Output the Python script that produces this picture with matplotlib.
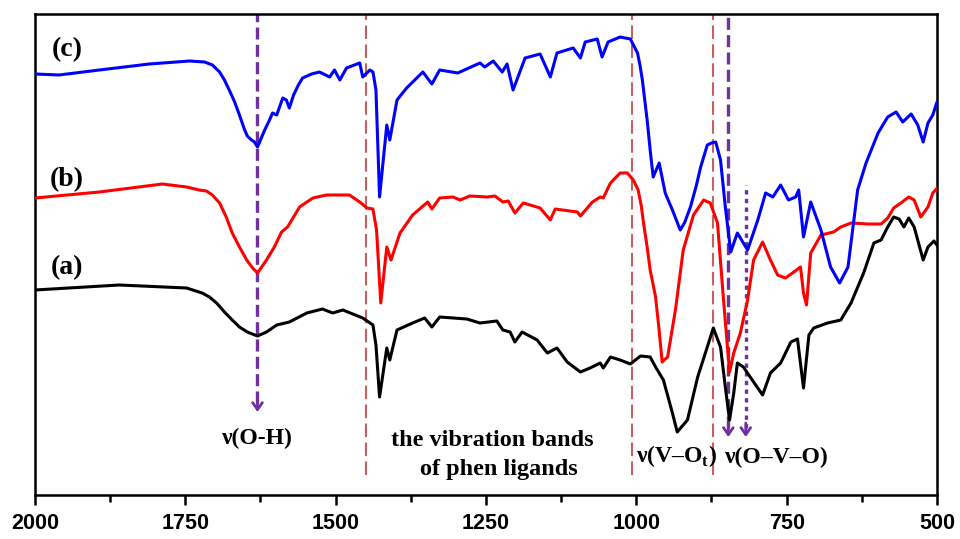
import numpy as np
import matplotlib
matplotlib.use("Agg")
import matplotlib.pyplot as plt

# FT-IR traces, wavenumber (cm-1) vs. offset transmittance (a.u.)
wn_c = [2000, 1960, 1893, 1810, 1743, 1718, 1705, 1693, 1685, 1677, 1668, 1660,
        1652, 1647, 1640, 1635, 1630, 1618, 1610, 1605, 1598, 1588, 1582, 1577,
        1570, 1562, 1555, 1540, 1527, 1510, 1502, 1493, 1482, 1460, 1455, 1443,
        1438, 1433, 1427, 1415, 1410, 1398, 1382, 1355, 1340, 1327, 1307, 1297,
        1260, 1252, 1238, 1223, 1215, 1205, 1185, 1160, 1143, 1132, 1105, 1093,
        1085, 1065, 1057, 1047, 1027, 1010, 998, 994, 990, 986, 982, 977, 972,
        962, 952, 940, 927, 920, 910, 900, 893, 882, 875, 868, 860, 852, 843,
        832, 823, 815, 798, 785, 773, 760, 747, 735, 730, 722, 710, 693, 677,
        662, 648, 632, 618, 598, 582, 568, 557, 543, 532, 523, 515, 507, 500]
t_c = [421, 420, 425, 431, 434, 433, 430, 423, 415, 405, 393, 380,
       366, 359, 355, 353, 348, 365, 375, 382, 380, 397, 395, 387,
       400, 410, 417, 421, 423, 418, 425, 415, 427, 432, 418, 425,
       423, 405, 298, 370, 355, 395, 407, 423, 411, 425, 423, 422,
       432, 428, 434, 423, 431, 405, 437, 441, 418, 442, 447, 437,
       453, 456, 438, 453, 458, 456, 442, 430, 415, 395, 375, 345, 318,
       332, 302, 285, 265, 272, 288, 310, 328, 350, 352, 353, 335, 288, 243,
       262, 253, 245, 275, 302, 298, 310, 295, 298, 305, 258, 293, 265, 228,
       212, 228, 305, 332, 362, 378, 383, 373, 381, 370, 353, 372, 380, 393]

wn_b = [2000, 1893, 1788, 1748, 1727, 1715, 1705, 1693, 1682, 1672, 1660, 1648,
        1638, 1630, 1615, 1602, 1590, 1580, 1560, 1538, 1515, 1477, 1460, 1448,
        1438, 1432, 1425, 1415, 1408, 1393, 1372, 1347, 1340, 1327, 1305, 1293,
        1277, 1248, 1235, 1222, 1213, 1202, 1188, 1160, 1143, 1135, 1098, 1093,
        1073, 1060, 1055, 1043, 1027, 1015, 1005, 997, 992, 988, 982, 977, 972,
        968, 963, 957, 948, 935, 922, 905, 888, 877, 865, 855, 845, 838, 827,
        815, 805, 790, 777, 765, 752, 738, 727, 722, 717, 710, 693, 672, 660,
        643, 615, 593, 582, 572, 560, 547, 538, 527, 515, 507, 498]
t_b = [297, 303, 311, 308, 305, 304, 300, 292, 278, 262, 248, 235,
       227, 222, 235, 248, 263, 268, 288, 297, 300, 300, 293, 287,
       286, 265, 192, 248, 235, 262, 280, 293, 286, 297, 298, 295,
       299, 298, 299, 293, 294, 282, 292, 287, 275, 286, 283, 279,
       293, 298, 297, 312, 322, 322, 315, 305, 290, 272, 248, 225, 210,
       198, 170, 133, 138, 185, 245, 280, 295, 292, 272, 195, 123, 142, 162,
       195, 235, 253, 235, 220, 217, 223, 228, 202, 190, 242, 260, 263, 268,
       272, 271, 271, 277, 287, 292, 298, 295, 278, 288, 302, 308]

wn_a = [2000, 1860, 1748, 1722, 1710, 1698, 1685, 1672, 1660, 1647, 1630, 1615,
        1598, 1577, 1548, 1522, 1505, 1488, 1455, 1438, 1433, 1427, 1415, 1410,
        1398, 1372, 1352, 1340, 1327, 1282, 1260, 1232, 1222, 1210, 1202, 1190,
        1165, 1148, 1132, 1115, 1093, 1077, 1060, 1055, 1043, 1027, 1010, 993,
        977, 968, 955, 940, 932, 915, 898, 882, 872, 860, 852, 845, 838, 832,
        822, 805, 790, 777, 760, 743, 732, 722, 713, 705, 682, 660, 643, 622,
        605, 593, 582, 572, 563, 555, 547, 538, 523, 515, 505, 498]
t_a = [205, 210, 207, 202, 198, 192, 183, 175, 168, 163, 159, 163,
       170, 173, 182, 186, 182, 185, 177, 170, 150, 98, 147, 135,
       165, 172, 177, 168, 178, 176, 172, 174, 165, 163, 153, 163,
       155, 142, 147, 133, 123, 127, 132, 127, 138, 135, 131, 139,
       138, 128, 115, 82, 63, 75, 118, 148, 167, 148, 108, 75, 102, 132,
       128, 113, 100, 122, 132, 153, 156, 107, 160, 167, 172, 175, 192, 222,
       252, 255, 268, 278, 276, 268, 277, 268, 235, 248, 254, 248]

brown_marks = [1450, 1007, 873]
purple = "#7030a0"
brown = "#c0504d"

plt.rcParams["font.family"] = "Liberation Serif"
plt.rcParams["mathtext.fontset"] = "custom"
plt.rcParams["mathtext.rm"] = "Liberation Serif:bold"

fig = plt.figure(figsize=(9.6, 5.39), dpi=100)
ax = fig.add_axes([35 / 960, 44 / 539, 902 / 960, 481 / 539])

line_kw = dict(lw=2.2, solid_joinstyle="round", solid_capstyle="round", zorder=3)
ax.plot(wn_a, t_a, color="black", **line_kw)
ax.plot(wn_b, t_b, color="#ff0000", **line_kw)
ax.plot(wn_c, t_c, color="#0000ff", **line_kw)

top = 481
for x in brown_marks:
    ax.plot([x, x], [20, top], color=brown, lw=1.5, alpha=0.9,
            linestyle=(0, (6.5, 2.6)), zorder=2)

# O-H and O-V-O bands marked with arrows
ax.plot([1630, 1630], [92, top], color=purple, lw=2.4,
        linestyle=(0, (3.6, 1.6)), zorder=2)
ax.plot([847, 847], [67, top], color=purple, lw=2.4,
        linestyle=(0, (3.6, 1.6)), zorder=2)
ax.plot([818, 818], [67, 310], color=purple, lw=2.4,
        linestyle=(0, (1.3, 1.3)), zorder=2)
for x, tip in [(1630, 83), (847, 58), (818, 58)]:
    ax.annotate("", xy=(x, tip), xytext=(x, tip + 14),
                arrowprops=dict(arrowstyle="->,head_width=0.35,head_length=0.5",
                                color=purple, lw=2.0, shrinkA=0, shrinkB=0))

lab = dict(fontweight="bold", ha="center", va="center", color="black")
ax.text(1947, 445, "(c)", fontsize=20, **lab)
ax.text(1948, 315, "(b)", fontsize=20, **lab)
ax.text(1947, 227, "(a)", fontsize=20, **lab)
ax.text(1630, 57, "ν(O-H)", fontsize=17, **lab)
ax.text(1240, 55, "the vibration bands", fontsize=17.5, **lab)
ax.text(1228, 25, "of phen ligands", fontsize=17.5, **lab)
ax.text(933, 39, r"ν(V–O$_\mathrm{t}$)", fontsize=17, **lab)
ax.text(767, 38, "ν(O–V–O)", fontsize=17, **lab)

ax.set_xlim(2000, 500)
ax.set_ylim(0, top)
ax.set_xticks([2000, 1750, 1500, 1250, 1000, 750, 500])
ax.set_xticks([1875, 1625, 1375, 1125, 875, 625], minor=True)
ax.set_yticks([])
ax.tick_params(axis="x", which="major", length=7, width=1.8, direction="out", pad=6)
ax.tick_params(axis="x", which="minor", length=5, width=1.8, direction="out")
for lbl in ax.get_xticklabels():
    lbl.set_fontfamily("Liberation Sans")
    lbl.set_fontweight("bold")
    lbl.set_fontsize(15.5)
for s in ax.spines.values():
    s.set_linewidth(1.8)

fig.savefig("out.png", dpi=100)
